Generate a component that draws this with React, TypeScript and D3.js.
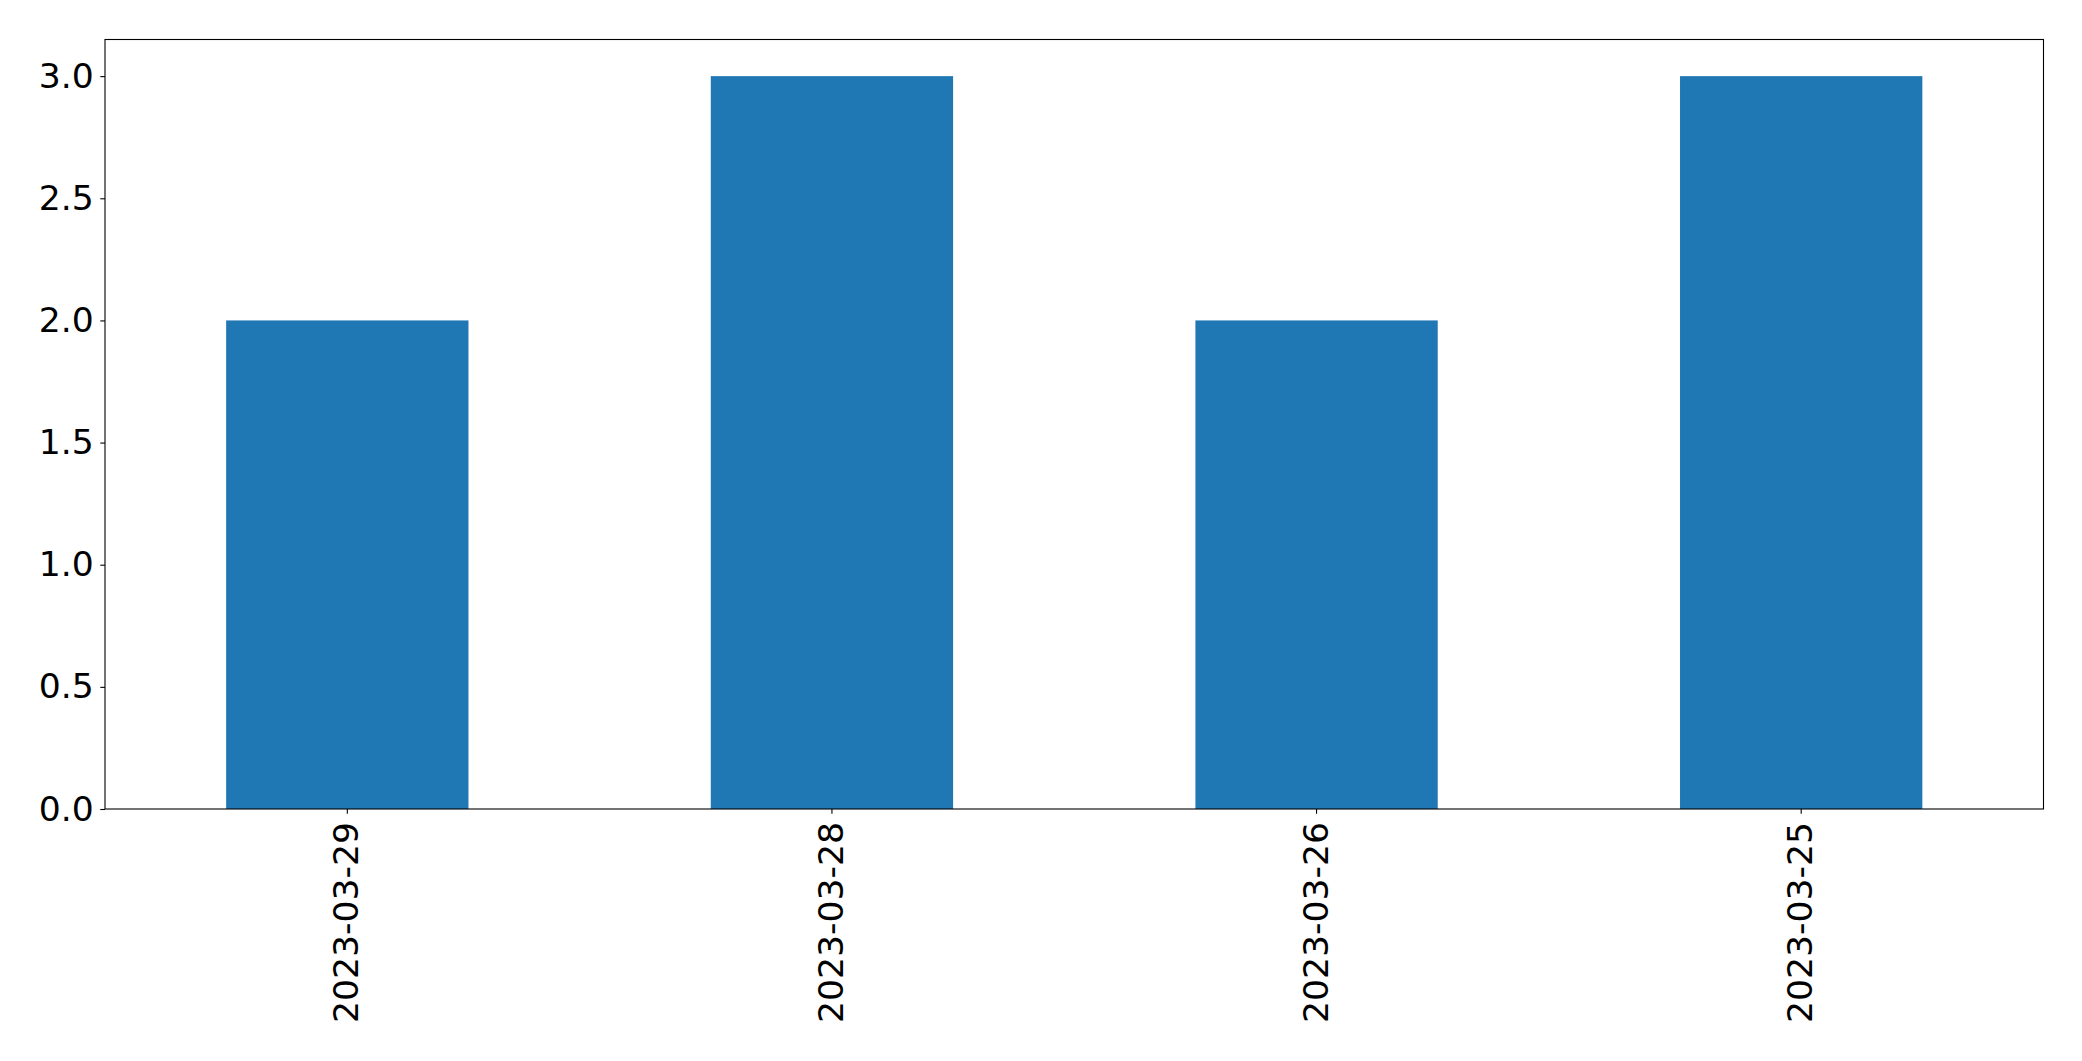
import { useEffect, useRef } from "react";
import * as d3 from "d3";

const categories = ["2023-03-29", "2023-03-28", "2023-03-26", "2023-03-25"];
const counts = [2, 3, 2, 3];
const yTicks = [0, 0.5, 1, 1.5, 2, 2.5, 3];

const WIDTH = 2082;
const HEIGHT = 1061;

export default function App() {
  const svgRef = useRef<SVGSVGElement>(null);

  useEffect(() => {
    document.body.style.margin = "0";
    if (!svgRef.current) return;

    const svg = d3.select(svgRef.current);
    svg.selectAll("*").remove();

    const margin = { top: 39.5, right: 38.5, bottom: 252, left: 105 };
    const innerWidth = WIDTH - margin.left - margin.right;
    const innerHeight = HEIGHT - margin.top - margin.bottom;
    const font = "DejaVu Sans, sans-serif";
    const fontSize = "34.6px";

    const g = svg
      .append("g")
      .attr("transform", `translate(${margin.left},${margin.top})`);

    // band scale, bar width half the step like pandas bar plots
    const xScale = d3
      .scaleBand()
      .domain(categories)
      .range([0, innerWidth])
      .paddingInner(0.5)
      .paddingOuter(0.25);

    const yMax = d3.max(counts) ?? 3;
    const yScale = d3
      .scaleLinear()
      .domain([0, yMax * 1.05])
      .range([innerHeight, 0]);

    // Bars
    g.selectAll(".bar")
      .data(counts)
      .enter()
      .append("rect")
      .attr("class", "bar")
      .attr("x", (_, i) => xScale(categories[i]) ?? 0)
      .attr("y", (d) => yScale(d))
      .attr("width", xScale.bandwidth())
      .attr("height", (d) => innerHeight - yScale(d))
      .attr("fill", "#1f77b4");

    // Frame
    g.append("rect")
      .attr("x", 0)
      .attr("y", 0)
      .attr("width", innerWidth)
      .attr("height", innerHeight)
      .attr("fill", "none")
      .attr("stroke", "#000")
      .attr("stroke-width", 1.1);

    // Y axis
    const yAxis = g
      .append("g")
      .call(
        d3
          .axisLeft(yScale)
          .tickValues(yTicks)
          .tickFormat(d3.format(".1f"))
          .tickSize(4.7)
          .tickPadding(6.5)
      );
    yAxis.select(".domain").remove();
    yAxis.selectAll(".tick line").attr("stroke", "#000").attr("stroke-width", 1.1);
    yAxis
      .selectAll("text")
      .attr("fill", "#000")
      .attr("font-family", font)
      .attr("font-size", fontSize);

    // X axis
    const xAxis = g
      .append("g")
      .attr("transform", `translate(0,${innerHeight})`)
      .call(d3.axisBottom(xScale).tickSize(4.7).tickPadding(0));
    xAxis.select(".domain").remove();
    xAxis.selectAll(".tick line").attr("stroke", "#000").attr("stroke-width", 1.1);
    xAxis
      .selectAll("text")
      .attr("fill", "#000")
      .attr("font-family", font)
      .attr("font-size", fontSize)
      .attr("text-anchor", "end")
      .attr("dy", null)
      .attr("y", 0)
      .attr("dominant-baseline", "central")
      .attr("transform", "translate(-1,13) rotate(-90)");
  }, []);

  return (
    <svg
      ref={svgRef}
      width={WIDTH}
      height={HEIGHT}
      style={{ display: "block", background: "#fff" }}
    />
  );
}
